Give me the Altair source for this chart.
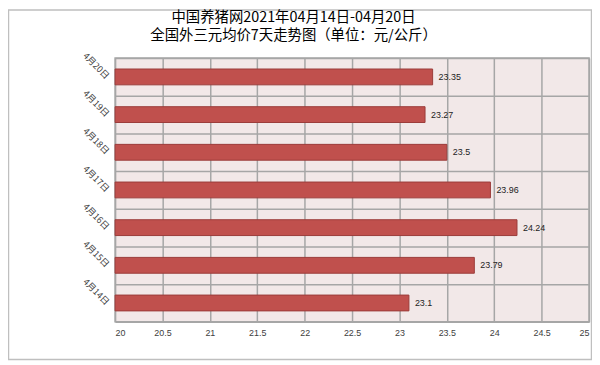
import altair as alt
import pandas as pd

dates = ["4月14日", "4月15日", "4月16日", "4月17日", "4月18日", "4月19日", "4月20日"]
prices = [23.1, 23.79, 24.24, 23.96, 23.5, 23.27, 23.35]
x_ticks = [20, 20.5, 21, 21.5, 22, 22.5, 23, 23.5, 24, 24.5, 25]
title_lines = ["中国养猪网2021年04月14日-04月20日", "全国外三元均价7天走势图（单位：元/公斤）"]

df = pd.DataFrame({"date": dates, "price": prices})

W, H = 478, 266
GRID = "#a6a6a6"

y = alt.Y(
    "date:N",
    sort=dates[::-1],
    title=None,
    scale=alt.Scale(paddingInner=0, paddingOuter=0),
    axis=alt.Axis(
        labelAngle=45, labelAlign="right", labelBaseline="middle",
        labelFontSize=9, labelFont="Noto Sans CJK SC", labelColor="#404040",
        ticks=False, domain=False, grid=True, tickBand="extent",
        gridColor=GRID, gridWidth=1.5, labelPadding=8,
    ),
)
x = alt.X(
    "price:Q",
    title=None,
    scale=alt.Scale(domain=[20, 25], nice=False, zero=False),
    axis=alt.Axis(
        values=x_ticks, format=".1~f", labelFontSize=9, labelFont="Liberation Sans",
        labelColor="#404040", ticks=False, domain=False, grid=True,
        gridColor=GRID, gridWidth=1.5, labelPadding=7,
    ),
)

bars = alt.Chart(df).mark_bar(
    height={"band": 0.42}, fill="#c0504d", stroke="#9b3c3a", strokeWidth=1
).encode(x=x, x2=alt.datum(20), y=y)

labels = alt.Chart(df).mark_text(
    align="left", baseline="middle", dx=6, fontSize=9, font="Liberation Sans", color="#222222"
).encode(x="price:Q", y=alt.Y("date:N", sort=dates[::-1]), text=alt.Text("price:Q", format=".2~f"))

frame = alt.Chart(alt.Data(values=[{}])).mark_rect(
    fill="transparent", stroke="#bfbfbf", strokeWidth=1.5
).encode(
    x=alt.value(-107.5), x2=alt.value(W + 2.5),
    y=alt.value(-48.5), y2=alt.value(H + 38),
)

chart = alt.layer(bars, labels, frame).properties(
    width=W, height=H,
    autosize=alt.AutoSizeParams(type="none"),
    padding={"left": 108, "top": 49, "right": 3, "bottom": 39},
    title=alt.Title(
        title_lines, anchor="middle", dx=-59, dy=35, fontSize=14.5,
        font="Noto Sans CJK SC", fontWeight="normal", color="#000000",
        lineHeight=19, offset=0,
    ),
).configure_view(fill="#f2e8e8", stroke=GRID, strokeWidth=1.5)

chart.save("out.html", embed_options={"renderer": "svg", "actions": False})
